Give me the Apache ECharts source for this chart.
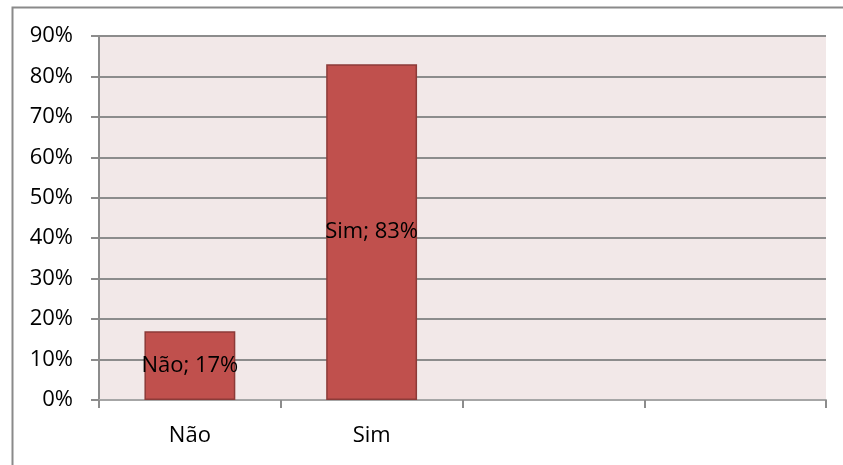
<!DOCTYPE html>
<html>
<head>
<meta charset="utf-8">
<script src="https://cdn.jsdelivr.net/npm/echarts@6/dist/echarts.min.js"></script>
<style>
  html, body { margin: 0; padding: 0; background: #ffffff; }
  #chart { width: 843px; height: 465px; }
</style>
</head>
<body>
<div id="chart"></div>
<script>
// Survey answers and their shares (percent)
const categories = ['Não', 'Sim', '', ''];
const shares = [17, 83];
const yTicks = { min: 0, max: 90, step: 10 };

const FONT = 'Open Sans';

const chart = echarts.init(document.getElementById('chart'), null, { renderer: 'canvas' });

chart.setOption({
  animation: false,
  backgroundColor: '#ffffff',
  textStyle: { fontFamily: FONT },
  graphic: [{
    type: 'rect',
    left: 10, top: 5,
    shape: { width: 900, height: 600 },
    style: { fill: 'none', stroke: '#8a8a8a', lineWidth: 2 },
    silent: true
  }],
  grid: {
    left: 99, right: 17, top: 36, bottom: 65,
    show: true,
    backgroundColor: '#F2E8E8',
    borderWidth: 0
  },
  xAxis: {
    type: 'category',
    data: categories,
    axisLine: { lineStyle: { color: '#a6a6a6', width: 2 } },
    axisTick: { show: true, length: 8, lineStyle: { color: '#8c8c8c', width: 2 } },
    axisLabel: { color: '#000000', fontSize: 22, fontFamily: FONT, margin: 25 }
  },
  yAxis: {
    type: 'value',
    min: yTicks.min, max: yTicks.max, interval: yTicks.step,
    axisLine: { show: true, lineStyle: { color: '#8c8c8c', width: 2 } },
    axisTick: { show: true, length: 8, lineStyle: { color: '#8c8c8c', width: 2 } },
    axisLabel: { color: '#000000', fontSize: 22, fontFamily: FONT, margin: 26,
      formatter: v => v + '%' },
    splitLine: { show: true, lineStyle: { color: '#8c8c8c', width: 2 } }
  },
  series: [{
    type: 'bar',
    data: shares,
    barWidth: '50%',
    itemStyle: { color: '#C0504D', borderColor: '#8C3A38', borderWidth: 1.5 },
    label: {
      show: true,
      position: 'inside',
      color: '#000000',
      fontSize: 22,
      fontFamily: FONT,
      formatter: p => p.name + '; ' + p.value + '%'
    }
  }]
});
</script>
</body>
</html>
